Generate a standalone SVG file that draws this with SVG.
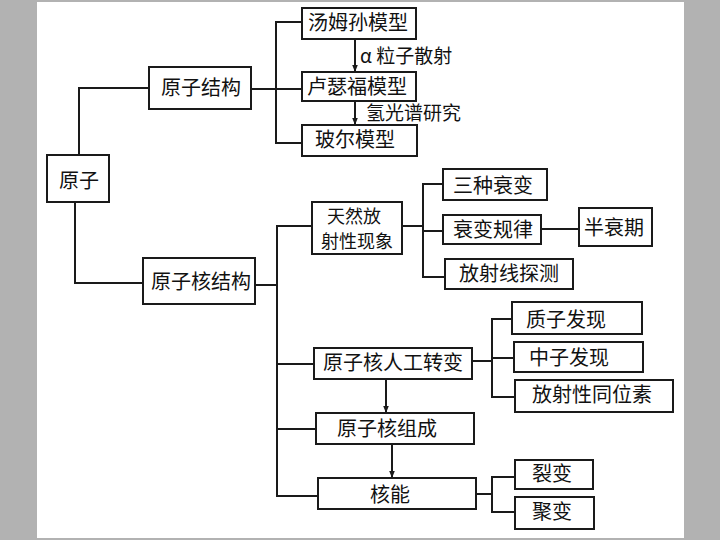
<svg xmlns="http://www.w3.org/2000/svg" width="720" height="540" viewBox="0 0 720 540">
<defs>
<style>
.box{fill:#fff;stroke:#1a1a1a;stroke-width:2}
.ln{fill:none;stroke:#1a1a1a;stroke-width:2}
text{font-family:"Noto Sans CJK SC","Liberation Sans",sans-serif;font-size:20px;fill:#111;text-anchor:middle}
.lbl{font-size:19px;text-anchor:start}
.two{font-size:18px}
</style>
<marker id="ah" viewBox="0 0 10 10" refX="10" refY="5" markerWidth="7" markerHeight="7" markerUnits="userSpaceOnUse" orient="auto">
<path d="M0,1 L10,5 L0,9 Z" fill="#1a1a1a"/>
</marker>
</defs>
<rect x="0" y="0" width="720" height="540" fill="#b2b2b2"/>
<rect x="37" y="2" width="647" height="536" fill="#fff"/>

<g id="connectors">
<polyline class="ln" points="79,155 79,88 149,88"/>
<polyline class="ln" points="75,202 75,283 143,283"/>
<line class="ln" x1="251" y1="89" x2="302" y2="89"/>
<polyline class="ln" points="302,22 276,22 276,143 302,143"/>
<line class="ln" x1="355" y1="39" x2="355" y2="72" marker-end="url(#ah)"/>
<line class="ln" x1="355" y1="101" x2="355" y2="125" marker-end="url(#ah)"/>
<line class="ln" x1="255" y1="285" x2="277" y2="285"/>
<polyline class="ln" points="312,226 277,226 277,496 318,496"/>
<line class="ln" x1="277" y1="364" x2="314" y2="364"/>
<line class="ln" x1="277" y1="429" x2="316" y2="429"/>
<line class="ln" x1="402" y1="226" x2="423" y2="226"/>
<polyline class="ln" points="443,184 423,184 423,277 445,277"/>
<line class="ln" x1="423" y1="231" x2="443" y2="231"/>
<line class="ln" x1="541" y1="229" x2="579" y2="229"/>
<line class="ln" x1="472" y1="361" x2="492" y2="361"/>
<polyline class="ln" points="512,319 492,319 492,397 515,397"/>
<line class="ln" x1="492" y1="358" x2="514" y2="358"/>
<line class="ln" x1="386" y1="379" x2="386" y2="413" marker-end="url(#ah)"/>
<line class="ln" x1="392" y1="444" x2="392" y2="478" marker-end="url(#ah)"/>
<line class="ln" x1="476" y1="494" x2="492" y2="494"/>
<polyline class="ln" points="515,477 492,477 492,512 515,512"/>
<text class="lbl" x="360" y="63">α 粒子散射</text>
<text class="lbl" x="366" y="120">氢光谱研究</text>
</g>

<g id="yuanzi"><rect class="box" x="47" y="155" width="62" height="47"/><text x="79" y="188">原子</text></g>
<g id="yuanzijiegou"><rect class="box" x="149" y="67" width="102" height="42"/><text x="201" y="95">原子结构</text></g>
<g id="yuanzihejiegou"><rect class="box" x="143" y="258" width="112" height="46"/><text x="201" y="289">原子核结构</text></g>
<g id="tangmusun"><rect class="box" x="302" y="8" width="114" height="31"/><text x="358" y="30">汤姆孙模型</text></g>
<g id="luseifu"><rect class="box" x="302" y="72" width="114" height="29"/><text x="357" y="94">卢瑟福模型</text></g>
<g id="boer"><rect class="box" x="302" y="125" width="115" height="31"/><text x="355" y="147">玻尔模型</text></g>
<g id="tianran"><rect class="box" x="312" y="202" width="90" height="52"/><text class="two" x="354" y="223">天然放</text><text class="two" x="357" y="248">射性现象</text></g>
<g id="sanzhong"><rect class="box" x="443" y="169" width="104" height="31"/><text x="493" y="193">三种衰变</text></g>
<g id="shuaibian"><rect class="box" x="443" y="215" width="98" height="29"/><text x="493" y="237">衰变规律</text></g>
<g id="fangshexian"><rect class="box" x="445" y="259" width="128" height="30"/><text x="509" y="281">放射线探测</text></g>
<g id="banshuaiqi"><rect class="box" x="579" y="208" width="73" height="38"/><text x="614" y="235">半衰期</text></g>
<g id="rengong"><rect class="box" x="314" y="348" width="158" height="31"/><text x="393" y="370">原子核人工转变</text></g>
<g id="zucheng"><rect class="box" x="316" y="413" width="158" height="31"/><text x="387" y="436">原子核组成</text></g>
<g id="heneng"><rect class="box" x="318" y="478" width="158" height="31"/><text x="390" y="502">核能</text></g>
<g id="zhizi"><rect class="box" x="512" y="302" width="130" height="32"/><text x="566" y="327">质子发现</text></g>
<g id="zhongzi"><rect class="box" x="514" y="342" width="129" height="30"/><text x="569" y="365">中子发现</text></g>
<g id="tongweisu"><rect class="box" x="515" y="380" width="158" height="32"/><text x="592" y="402">放射性同位素</text></g>
<g id="liebian"><rect class="box" x="515" y="460" width="78" height="29"/><text x="552" y="481">裂变</text></g>
<g id="jubian"><rect class="box" x="515" y="497" width="79" height="32"/><text x="552" y="519">聚变</text></g>
</svg>
